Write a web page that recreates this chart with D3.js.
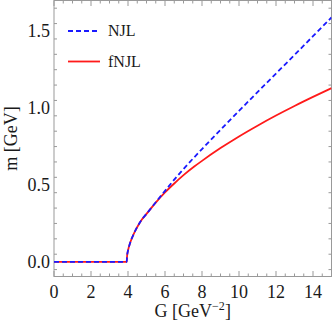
<!DOCTYPE html>
<html>
<head>
<meta charset="utf-8">
<script src="https://cdn.jsdelivr.net/npm/d3@7"></script>
<style>
  body { margin: 0; background: #fff; }
  svg text { font-family: "Liberation Serif", "Times New Roman", "DejaVu Serif", serif; fill: #1a1a1a; }
</style>
</head>
<body>
<svg id="chart" width="332" height="331"></svg>
<script>
// coupling G [GeV^-2] and constituent mass m [GeV]
var gNJL  = [0, 3.93, 3.95, 4.0, 4.1, 4.2, 4.35, 4.5, 4.75, 5.0, 5.5, 6.0, 6.5, 7.0, 7.5, 8.0, 9.0, 10.0, 11.0, 12.0, 13.0, 14.0, 15.0];
var mNJL  = [0, 0, 0.037, 0.073, 0.118, 0.151, 0.192, 0.227, 0.276, 0.312, 0.388, 0.462, 0.535, 0.604, 0.670, 0.734, 0.859, 0.982, 1.104, 1.225, 1.346, 1.468, 1.59];
var gFNJL = [0, 3.93, 3.95, 4.0, 4.1, 4.2, 4.35, 4.5, 4.75, 5.0, 5.5, 6.0, 6.5, 7.0, 7.58, 8.0, 9.0, 10.0, 11.0, 12.0, 13.0, 14.0, 15.0];
var mFNJL = [0, 0, 0.037, 0.073, 0.118, 0.151, 0.192, 0.227, 0.276, 0.312, 0.386, 0.452, 0.51, 0.564, 0.62, 0.657, 0.74, 0.816, 0.886, 0.952, 1.014, 1.073, 1.13];
var xTicks = [0, 2, 4, 6, 8, 10, 12, 14];
var yTicks = [0.0, 0.5, 1.0, 1.5];
var legendLabels = ["NJL", "fNJL"];

var svg = d3.select("#chart"),
    margin = {top: 0.5, right: 0.5, bottom: 54.5, left: 54},
    width = 332 - margin.left - margin.right,
    height = 331 - margin.top - margin.bottom;

var x = d3.scaleLinear().domain([0, 15]).range([0, width]),
    y = d3.scaleLinear().domain([-0.095, 1.7]).range([height, 0]);

var g = svg.append("g")
    .attr("transform", "translate(" + margin.left + "," + margin.top + ")");

svg.append("defs").append("clipPath").attr("id", "clip")
  .append("rect").attr("width", width).attr("height", height);

var frameColor = "#999";
var serif = "'Liberation Serif', 'Times New Roman', 'DejaVu Serif', serif";

// minor + major ticks on all four sides
var xMinor = d3.range(0, 15.01, 0.5),
    yMinor = d3.range(-0.05, 1.701, 0.1).map(function(d) { return Math.round(d * 100) / 100; });

function isMajor(v, list) { return list.some(function(t) { return Math.abs(t - v) < 1e-6; }); }

var ticks = g.append("g").attr("stroke", frameColor).attr("stroke-width", 1);
xMinor.forEach(function(v) {
  var len = isMajor(v, xTicks) ? 5.5 : 3;
  ticks.append("line").attr("x1", x(v)).attr("x2", x(v)).attr("y1", height).attr("y2", height - len);
  ticks.append("line").attr("x1", x(v)).attr("x2", x(v)).attr("y1", 0).attr("y2", len);
});
yMinor.forEach(function(v) {
  var len = isMajor(v, yTicks) ? 5.5 : 3;
  ticks.append("line").attr("y1", y(v)).attr("y2", y(v)).attr("x1", 0).attr("x2", len);
  ticks.append("line").attr("y1", y(v)).attr("y2", y(v)).attr("x1", width).attr("x2", width - len);
});

g.append("rect")
    .attr("width", width).attr("height", height)
    .attr("fill", "none").attr("stroke", frameColor).attr("stroke-width", 1);

// tick labels
g.selectAll(".xl").data(xTicks).enter().append("text")
    .attr("font-family", serif)
    .attr("x", function(d) { return x(d); })
    .attr("y", height + 21)
    .attr("text-anchor", "middle")
    .attr("font-size", 18)
    .text(function(d) { return d; });

g.selectAll(".yl").data(yTicks).enter().append("text")
    .attr("font-family", serif)
    .attr("x", -4)
    .attr("y", function(d) { return y(d); })
    .attr("dy", "0.33em")
    .attr("text-anchor", "end")
    .attr("font-size", 18)
    .text(function(d) { return d3.format(".1f")(d); });

// axis titles
var xt = g.append("text")
    .attr("font-family", serif)
    .attr("x", width / 2)
    .attr("y", height + 40)
    .attr("text-anchor", "middle")
    .attr("font-size", 18);
xt.append("tspan").text("G [GeV");
xt.append("tspan").attr("font-size", 12).attr("dy", -7).text("\u22122");
xt.append("tspan").attr("dy", 7).text("]");

g.append("text")
    .attr("font-family", serif)
    .attr("transform", "translate(" + (17 - margin.left) + "," + (height / 2) + ") rotate(-90)")
    .attr("text-anchor", "middle")
    .attr("font-size", 18)
    .text("m [GeV]");

// curves
var line = d3.line()
    .x(function(d) { return x(d[0]); })
    .y(function(d) { return y(d[1]); })
    .curve(d3.curveMonotoneX);

var plot = g.append("g").attr("clip-path", "url(#clip)");

plot.append("path")
    .datum(d3.zip(gFNJL, mFNJL))
    .attr("fill", "none")
    .attr("stroke", "#ff1a1a")
    .attr("stroke-width", 1.8)
    .attr("d", line);

plot.append("path")
    .datum(d3.zip(gNJL, mNJL))
    .attr("fill", "none")
    .attr("stroke", "#1a1aff")
    .attr("stroke-width", 1.8)
    .attr("stroke-dasharray", "5,3")
    .attr("d", line);

// legend
var legend = g.append("g");
var legendStyles = [
  {color: "#1a1aff", dash: "5,3", ly: 30.5},
  {color: "#ff1a1a", dash: null, ly: 61}
];
legendLabels.forEach(function(name, i) {
  var s = legendStyles[i];
  legend.append("line")
      .attr("x1", 14).attr("x2", 46)
      .attr("y1", s.ly).attr("y2", s.ly)
      .attr("stroke", s.color).attr("stroke-width", 1.8)
      .attr("stroke-dasharray", s.dash);
  legend.append("text")
      .attr("font-family", serif)
      .attr("x", 54).attr("y", s.ly + 5)
      .attr("font-size", 16)
      .text(name);
});
</script>
</body>
</html>
